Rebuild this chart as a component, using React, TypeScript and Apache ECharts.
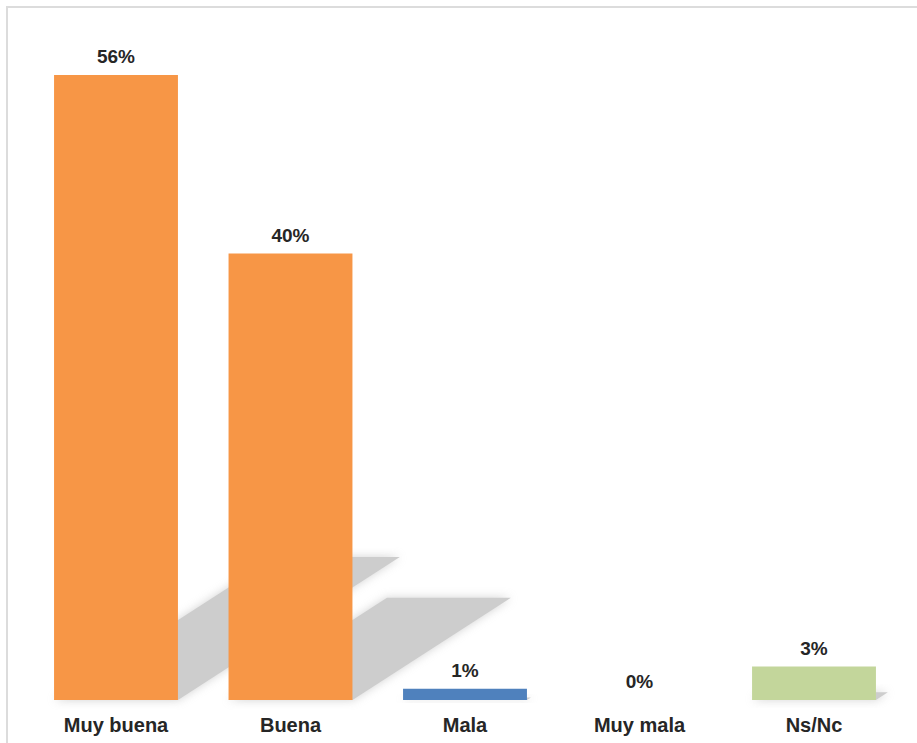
import React, { useEffect, useRef } from "react";
import * as echarts from "echarts";

const categories = ["Muy buena", "Buena", "Mala", "Muy mala", "Ns/Nc"];
const values = [56, 40, 1, 0, 3];
const barColors = ["#F79646", "#F79646", "#4F81BD", "#F79646", "#C3D69B"];

const GAP = 0.29;
const SHADOW_H = 0.229;
const SHADOW_SKEW = 1.55;

export default function App() {
  const ref = useRef<HTMLDivElement>(null);
  useEffect(() => {
    document.body.style.margin = "0";
    const chart = echarts.init(ref.current!, undefined, { renderer: "svg" });
    chart.setOption({
      animation: false,
      backgroundColor: "#ffffff",
      graphic: [
        {
          type: "rect",
          silent: true,
          z: -10,
          shape: { x: 7, y: 7, width: 930, height: 760 },
          style: { fill: "none", stroke: "#dcdcdc", lineWidth: 2 },
        },
      ],
      grid: { left: 28.75, right: 15.75, top: 30.4, bottom: 43 },
      xAxis: {
        type: "category",
        data: categories,
        axisLine: { show: false },
        axisTick: { show: false },
        axisLabel: {
          margin: 15,
          fontSize: 20,
          fontWeight: "bold",
          fontFamily: "'Liberation Sans', Arial, sans-serif",
          color: "#262626",
        },
      },
      yAxis: {
        type: "value",
        min: 0,
        max: 60,
        show: false,
        splitLine: { show: false },
      },
      series: [
        {
          type: "custom",
          z: 1,
          silent: true,
          data: values.map((v, i) => [i, v]),
          renderItem: (params: any, api: any) => {
            const idx = api.value(0);
            const v = api.value(1);
            if (!v) return null;
            const base = api.coord([idx, 0]);
            const top = api.coord([idx, v]);
            const catW = api.size([1, 0])[0];
            const bw = catW * (1 - GAP);
            const x0 = base[0] - bw / 2;
            const x1 = base[0] + bw / 2;
            const h = (base[1] - top[1]) * SHADOW_H;
            const s = h * SHADOW_SKEW;
            return {
              type: "polygon",
              shape: {
                points: [
                  [x0, base[1]],
                  [x1, base[1]],
                  [x1 + s, base[1] - h],
                  [x0 + s, base[1] - h],
                ],
              },
              style: {
                fill: "#cdcdcd",
                shadowBlur: 10,
                shadowColor: "rgba(205,205,205,0.9)",
              },
            };
          },
        },
        {
          type: "bar",
          z: 2,
          barCategoryGap: "29%",
          data: values.map((v, i) => ({
            value: v,
            itemStyle: { color: barColors[i] },
          })),
          label: {
            show: true,
            position: "top",
            distance: 9,
            formatter: "{c}%",
            fontSize: 19,
            fontWeight: "bold",
            fontFamily: "'Liberation Sans', Arial, sans-serif",
            color: "#262626",
          },
        },
      ],
    });
    return () => chart.dispose();
  }, []);
  return <div ref={ref} style={{ width: 917, height: 743 }} />;
}
